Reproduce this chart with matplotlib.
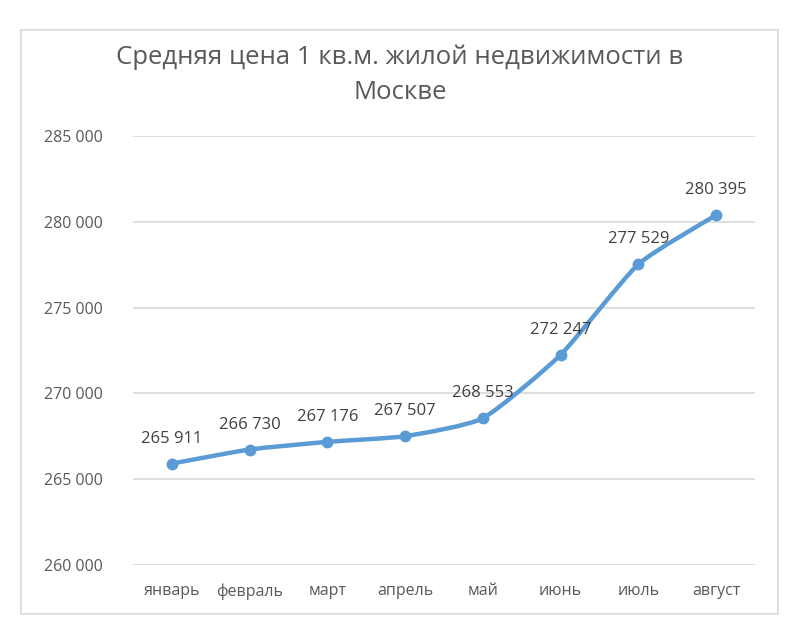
import matplotlib
matplotlib.use("Agg")
import matplotlib.pyplot as plt
from matplotlib.path import Path
from matplotlib.patches import PathPatch, Rectangle
import numpy as np

months = ["январь", "февраль", "март", "апрель", "май", "июнь", "июль", "август"]
prices = [265911, 266730, 267176, 267507, 268553, 272247, 277529, 280395]
yticks = [260000, 265000, 270000, 275000, 280000, 285000]
title = "Средняя цена 1 кв.м. жилой недвижимости в\nМоскве"

def fmt(v):
    return f"{v:,}".replace(",", " ")

FONT = ["Open Sans", "DejaVu Sans"]
plt.rcParams["font.family"] = FONT

fig = plt.figure(figsize=(8, 6.37), dpi=100)
W, H = 800, 637
# chart border
fig.patches.append(Rectangle((21 / W, 1 - 614 / H), (778 - 21) / W, (614 - 30) / H,
                             transform=fig.transFigure, fill=False, edgecolor="#d9d9d9", lw=1.2))

ax = fig.add_axes([133 / W, 1 - 565 / H, (755 - 133) / W, (565 - 136) / H])
x = np.arange(len(months))
ax.set_xlim(-0.5, len(months) - 0.5)
ax.set_ylim(260000, 285000)
ax.set_yticks(yticks)
ax.set_yticklabels([fmt(v) for v in yticks])
ax.set_xticks(x)
ax.set_xticklabels(months)
ax.tick_params(axis="both", length=0, labelsize=11.5, colors="#595959")
ax.tick_params(axis="y", pad=22)
ax.tick_params(axis="x", pad=13)
for s in ax.spines.values():
    s.set_visible(False)
ax.grid(axis="y", color="#d9d9d9", lw=1.2)
ax.set_axisbelow(True)

# smoothed line (bezier through the data points, like Excel's smoothed line)
pts = np.column_stack([x, prices]).astype(float)
verts = [tuple(pts[0])]
codes = [Path.MOVETO]
n = len(pts)
t = 0.09
for i in range(n - 1):
    p0 = pts[i - 1] if i > 0 else pts[i]
    p1 = pts[i]
    p2 = pts[i + 1]
    p3 = pts[i + 2] if i + 2 < n else pts[i + 1]
    c1 = p1 + (p2 - p0) * t
    c2 = p2 - (p3 - p1) * t
    verts += [tuple(c1), tuple(c2), tuple(p2)]
    codes += [Path.CURVE4] * 3
ax.add_patch(PathPatch(Path(verts, codes), fill=False, edgecolor="#5b9bd5", lw=3.2,
                       capstyle="round", joinstyle="round", zorder=3))
ax.plot(x, prices, "o", color="#5b9bd5", ms=7.5, zorder=4)

for xi, v in zip(x, prices):
    ax.annotate(fmt(v), (xi, v), xytext=(0, 18), textcoords="offset points",
                ha="center", va="center", fontsize=12, color="#404040", zorder=5)

fig.text(0.5, 1 - 75 / H, title, ha="center", va="center", fontsize=18.5,
         color="#595959", linespacing=1.5)

fig.savefig("out.png", dpi=100)
